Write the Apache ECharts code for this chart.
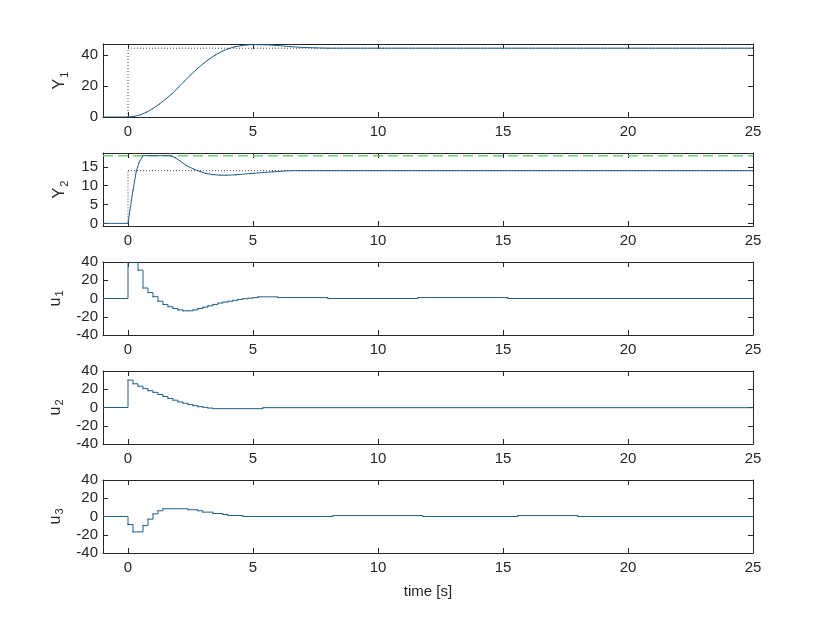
<!DOCTYPE html>
<html>
<head>
<meta charset="utf-8">
<script src="https://cdn.jsdelivr.net/npm/echarts@6/dist/echarts.min.js"></script>
<style>html,body{margin:0;padding:0;background:#fff}#c{width:831px;height:624px}</style>
</head>
<body>
<div id="c"></div>
<script>
// ---- tick labels ----
const xTicks = [0, 5, 10, 15, 20, 25];
const yTicksY1 = [0, 20, 40];
const yTicksY2 = [0, 5, 10, 15];
const yTicksU = [-40, -20, 0, 20, 40];

// ---- outputs ----
const tY1 = [-1, 0, 0.25, 0.5, 0.75, 1.0, 1.25, 1.5, 1.75, 2.0, 2.25, 2.5, 2.75, 3.0, 3.25, 3.5, 3.75, 4.0, 4.25, 4.5, 4.75, 5.0, 5.5, 6.0, 6.5, 7.0, 7.5, 8.0, 25];
const vY1 = [0, 0, 0.4, 1.4, 3.2, 5.5, 8.3, 11.4, 14.8, 18.8, 23, 27, 30.8, 34.2, 37.3, 40, 42.2, 43.9, 45.1, 45.9, 46.4, 46.6, 46.5, 46, 45.3, 44.8, 44.5, 44.3, 44.3];
const Y1final = 44.3;

const tY2 = [-1, 0, 0.1, 0.2, 0.33, 0.45, 0.6, 1.7, 1.9, 2.1, 2.33, 2.6, 2.87, 3.1, 3.4, 3.7, 3.93, 4.3, 5.0, 5.8, 6.5, 8, 25];
const vY2 = [0, 0, 4.5, 8.8, 13.8, 16.3, 18, 18, 17.4, 16.5, 15.4, 14.5, 13.8, 13.3, 12.95, 12.8, 12.8, 12.9, 13.3, 13.7, 14, 14, 14];
const Y2final = 14;
const Y2limit = 18;

// ---- inputs (zero-order hold: value v[i] holds from t[i] to t[i+1]) ----
const tU1 = [-1, 0, 0.2, 0.4, 0.6, 0.8, 1.0, 1.2, 1.4, 1.6, 1.8, 2.0, 2.2, 2.4, 2.6, 2.8, 3.0, 3.2, 3.4, 3.6, 3.8, 4.0, 4.2, 4.4, 4.6, 4.8, 5.0, 5.2, 6.0, 8.0, 11.6, 15.2, 25];
const vU1 = [0, 80, 60, 31, 11.5, 6.5, 2, -3, -6.5, -9, -11, -12.5, -13.5, -13.5, -12.5, -11, -9.5, -8, -6.5, -5, -4, -3, -2, -1, -0.3, 0.3, 1.0, 1.8, 1.0, 0, 1.0, 0, 0];

const tU2 = [-1, 0, 0.2, 0.4, 0.6, 0.8, 1.0, 1.2, 1.4, 1.6, 1.8, 2.0, 2.2, 2.4, 2.6, 2.8, 3.0, 3.2, 3.4, 5.4, 25];
const vU2 = [0, 30, 26, 23.3, 20.7, 18.4, 16.6, 14.3, 12.1, 9.9, 8, 6.1, 4.7, 3.2, 2, 0.9, 0.2, -0.6, -1.3, -0.2, -0.2];

const tU3 = [-1, 0, 0.2, 0.6, 0.8, 1.0, 1.2, 1.4, 2.4, 2.8, 3.0, 3.4, 3.8, 4.0, 4.6, 8.2, 11.8, 15.6, 18.0, 25];
const vU3 = [0, -8.8, -16.9, -9.9, -2.9, 2.9, 6.3, 8.5, 7.4, 6.3, 4.8, 3.3, 2.2, 1.1, 0, 1.0, 0, 1.0, 0, 0];

const panelNames = [['Y', '1'], ['Y', '2'], ['u', '1'], ['u', '2'], ['u', '3']];
const xMin = -1, xMax = 25;

// ---- build options ----
const INK = '#262626';
const LINE = '#1f5f8c';
const FONT = '"Liberation Sans", Arial, Helvetica, sans-serif';

// segments [t_i, v_i, t_{i+1}, v_{i+1}]
const segs = (t, v) => {
  const out = [];
  for (let i = 0; i + 1 < t.length; i++) out.push([t[i], v[i], t[i + 1], v[i + 1]]);
  return out;
};

const yRanges = [
  { min: 0, max: 47, ticks: yTicksY1 },
  { min: -0.7, max: 18.7, ticks: yTicksY2 },
  { min: -40, max: 40, ticks: yTicksU },
  { min: -40, max: 40, ticks: yTicksU },
  { min: -40, max: 40, ticks: yTicksU }
];

const grids = [], xAxes = [], yAxes = [], series = [];
for (let i = 0; i < 5; i++) {
  grids.push({ left: 103, right: 78, top: 44 + 109 * i, height: 73 });
  const tick = { show: true, inside: true, length: 5, lineStyle: { color: INK, width: 1 } };
  const axLine = { show: true, onZero: false, lineStyle: { color: INK, width: 1 } };
  xAxes.push({
    type: 'value', gridIndex: i, min: xMin, max: xMax, position: 'bottom',
    axisLine: axLine,
    axisTick: Object.assign({ customValues: xTicks }, tick),
    axisLabel: { customValues: xTicks, color: INK, fontSize: 15, fontFamily: FONT, margin: 7 },
    splitLine: { show: false },
    name: i === 4 ? 'time [s]' : '',
    nameLocation: 'middle', nameGap: 31,
    nameTextStyle: { color: INK, fontSize: 15, fontFamily: FONT }
  });
  xAxes.push({
    type: 'value', gridIndex: i, min: xMin, max: xMax, position: 'top',
    axisLine: axLine,
    axisTick: Object.assign({ customValues: xTicks }, tick),
    axisLabel: { show: false },
    splitLine: { show: false }
  });
  const r = yRanges[i];
  yAxes.push({
    type: 'value', gridIndex: i, min: r.min, max: r.max, position: 'left',
    axisLine: axLine,
    axisTick: Object.assign({ customValues: r.ticks }, tick),
    axisLabel: { customValues: r.ticks, color: INK, fontSize: 15, fontFamily: FONT, margin: 5 },
    splitLine: { show: false },
    name: '{a|' + panelNames[i][0] + '}{b|' + panelNames[i][1] + '}',
    nameLocation: 'middle', nameGap: 33, nameRotate: 90,
    nameTextStyle: {
      color: INK, fontFamily: FONT,
      rich: {
        a: { fontSize: 16, color: INK, fontFamily: FONT },
        b: { fontSize: 11, color: INK, fontFamily: FONT, padding: [9, 0, 0, 1] }
      }
    }
  });
  yAxes.push({
    type: 'value', gridIndex: i, min: r.min, max: r.max, position: 'right',
    axisLine: axLine,
    axisTick: Object.assign({ customValues: r.ticks }, tick),
    axisLabel: { show: false },
    splitLine: { show: false }
  });
}

const xi = i => 2 * i, yi = i => 2 * i;
// custom series: straight (hold=false) or zero-order-hold (hold=true) segments
const mainSeries = (i, t, v, hold) => ({
  type: 'custom', xAxisIndex: xi(i), yAxisIndex: yi(i),
  data: segs(t, v),
  encode: { x: [0, 2], y: [1, 3] },
  clip: true, silent: true, z: 3, animation: false,
  renderItem: function (params, api) {
    const cs = params.coordSys;
    const cy = y => Math.max(cs.y, Math.min(cs.y + cs.height, y));
    const t0 = api.value(0), v0 = api.value(1), t1 = api.value(2), v1 = api.value(3);
    const raw = hold
      ? [api.coord([t0, v0]), api.coord([t1, v0]), api.coord([t1, v1])]
      : [api.coord([t0, v0]), api.coord([t1, v1])];
    const pts = raw.map(p => [p[0], cy(p[1])]);
    return {
      type: 'polyline',
      shape: { points: pts },
      style: { stroke: LINE, lineWidth: 1, fill: null, lineJoin: 'miter', lineCap: 'square' }
    };
  }
});
const refLine = (i, data, style) => ({
  type: 'line', xAxisIndex: xi(i), yAxisIndex: yi(i), data: data,
  showSymbol: false, symbol: 'none', clip: true, lineStyle: style, z: 2, animation: false, silent: true
});
const dotted = { color: '#444', width: 1, type: [1, 2] };

// Y1
series.push(refLine(0, [[0, 0], [0, Y1final]], dotted));
series.push(refLine(0, [[0, Y1final], [xMax, Y1final]], dotted));
series.push(mainSeries(0, tY1, vY1, false));
// Y2
series.push(refLine(1, [[0, 0], [0, Y2final]], dotted));
series.push(refLine(1, [[0, Y2final], [xMax, Y2final]], dotted));
series.push(refLine(1, [[xMin, Y2limit], [xMax, Y2limit]], { color: '#6fcf6f', width: 1.5, type: [10, 5] }));
series.push(mainSeries(1, tY2, vY2, false));
// inputs
series.push(mainSeries(2, tU1, vU1, true));
series.push(mainSeries(3, tU2, vU2, true));
series.push(mainSeries(4, tU3, vU3, true));

const chart = echarts.init(document.getElementById('c'), null, { renderer: 'canvas' });
chart.setOption({
  backgroundColor: '#fff',
  animation: false,
  grid: grids, xAxis: xAxes, yAxis: yAxes, series: series
});
</script>
</body>
</html>
